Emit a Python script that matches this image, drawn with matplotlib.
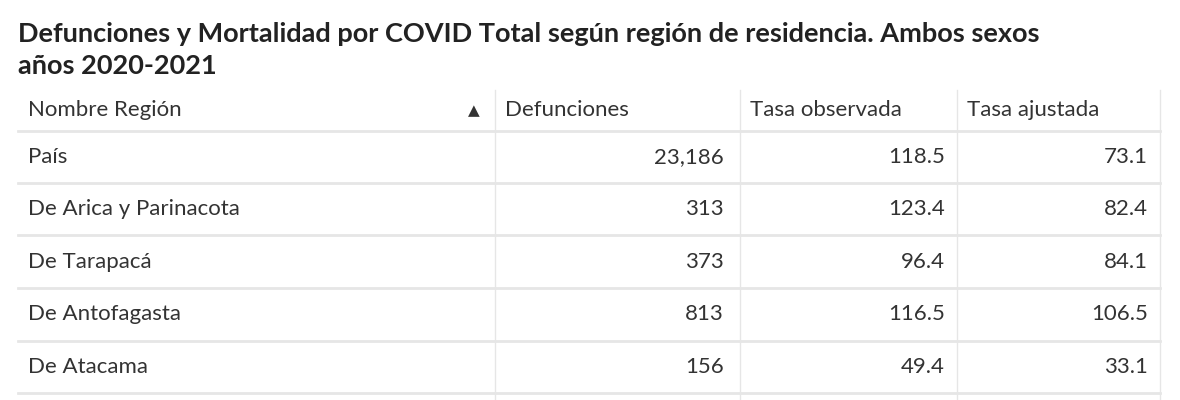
import matplotlib.pyplot as plt

plt.rcParams['font.family'] = ['Lato', 'DejaVu Sans']

title = 'Defunciones y Mortalidad por COVID Total según región de residencia. Ambos sexos\naños 2020-2021'
headers = ['Nombre Región', 'Defunciones', 'Tasa observada', 'Tasa ajustada']
regions = ['País', 'De Arica y Parinacota', 'De Tarapacá', 'De Antofagasta', 'De Atacama']
deaths = [23186, 313, 373, 813, 156]
rate_obs = [118.5, 123.4, 96.4, 116.5, 49.4]
rate_adj = [73.1, 82.4, 84.1, 106.5, 33.1]

W, H = 1180, 400
fig = plt.figure(figsize=(W / 100, H / 100), dpi=100)
ax = fig.add_axes([0, 0, 1, 1])
ax.set_xlim(0, W)
ax.set_ylim(H, 0)
ax.axis('off')

# title: two lines centred around y=30 and y=70
ax.text(18, 50, title, fontsize=19.5, fontweight='bold', color='#222222',
        va='center', ha='left', linespacing=1.45)

col_x = [18, 495, 740, 957, 1160]
row_y = [90, 131, 183, 235, 288, 341, 393, 400]
line_c = '#e6e6e6'

# grid
for y in row_y[1:-1]:
    ax.plot([col_x[0], col_x[-1]], [y, y], color=line_c, lw=2)
for x in col_x[1:]:
    ax.plot([x, x], [row_y[0], H], color=line_c, lw=1)

txt_c = '#333333'
fs = 16
hy = (row_y[0] + row_y[1]) / 2
ax.text(28, hy, headers[0], fontsize=fs, color=txt_c, va='center')
ax.text(474, hy, '▲', fontsize=11, color=txt_c, va='center', ha='center', family='DejaVu Sans')
for i in range(1, 4):
    ax.text(col_x[i] + 10, hy, headers[i], fontsize=fs, color=txt_c, va='center')

for r in range(len(regions)):
    cy = (row_y[r + 1] + row_y[r + 2]) / 2
    ax.text(28, cy, regions[r], fontsize=fs, color=txt_c, va='center')
    ax.text(col_x[2] - 16, cy, f'{deaths[r]:,}', fontsize=fs, color=txt_c, va='center', ha='right')
    ax.text(col_x[3] - 12, cy, f'{rate_obs[r]:.1f}', fontsize=fs, color=txt_c, va='center', ha='right')
    ax.text(col_x[4] - 12, cy, f'{rate_adj[r]:.1f}', fontsize=fs, color=txt_c, va='center', ha='right')

fig.savefig('out.png', dpi=100)
